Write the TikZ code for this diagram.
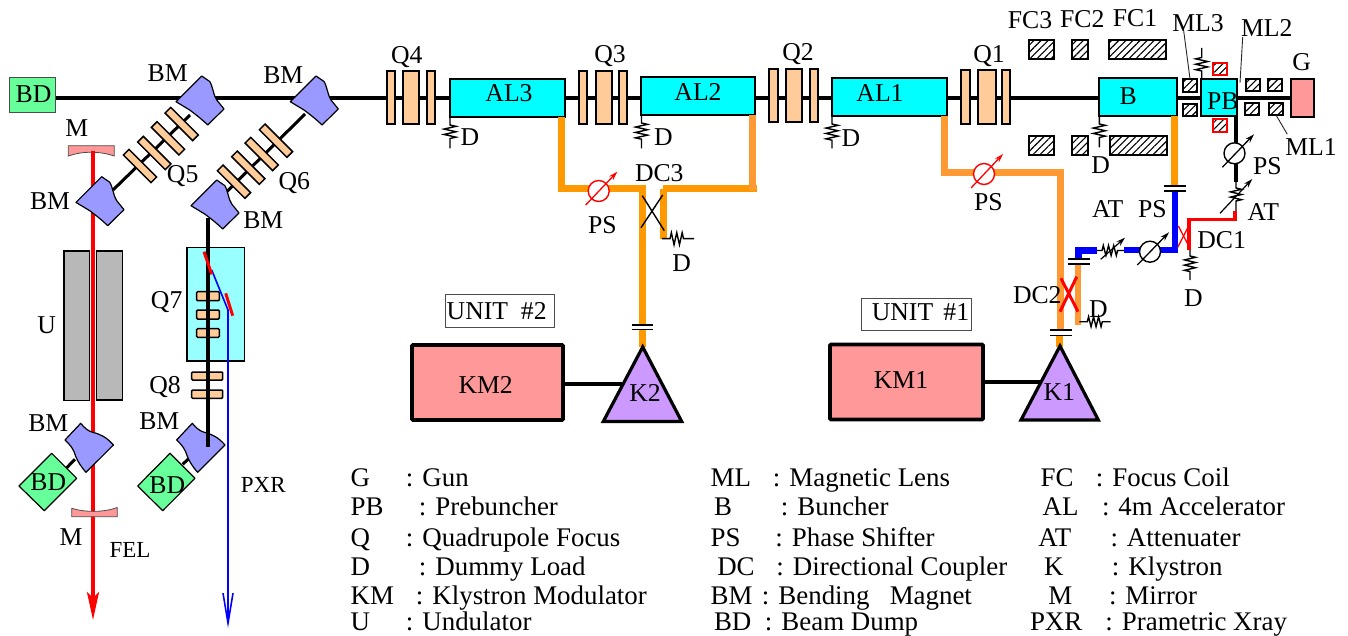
\documentclass[tikz,border=0pt]{standalone}
\usepackage{fontspec}
\setmainfont{Liberation Serif}
\usetikzlibrary{arrows.meta,patterns.meta,decorations.pathmorphing,backgrounds}
\definecolor{rfa}{HTML}{FF9900}
\definecolor{rfb}{HTML}{FF9933}
\definecolor{qcol}{HTML}{FFCC99}
\definecolor{bmcol}{HTML}{9999FF}
\definecolor{bdcol}{HTML}{66FF99}
\definecolor{pinkcol}{HTML}{FF9999}
\definecolor{ltcyan}{HTML}{99FFFF}
\definecolor{fullcyan}{HTML}{00FFFF}
\definecolor{graycol}{HTML}{B8B8B8}
\definecolor{kcol}{HTML}{CC99FF}
\tikzset{
  lab/.style={inner sep=0pt,outer sep=0pt,font=\fontsize{25.7pt}{28pt}\selectfont},
  smalllab/.style={inner sep=0pt,outer sep=0pt,font=\fontsize{23pt}{26pt}\selectfont},
  legtext/.style={inner sep=0pt,outer sep=0pt,anchor=base west,font=\fontsize{26.9pt}{28pt}\selectfont},
  plainbox/.style={rectangle,draw,inner sep=0pt,outer sep=0pt},
  albox/.style={plainbox,fill=fullcyan,line width=2pt},
  qbar/.style={plainbox,fill=qcol,line width=1.7pt},
  sbar/.style={plainbox,fill=qcol,line width=1.5pt,rounded corners=1pt},
  hatchbox/.style={plainbox,line width=1.7pt,pattern={Lines[angle=45,distance=5pt,line width=1.1pt]}},
  redhatch/.style={hatchbox,draw=red},
  gunbox/.style={plainbox,fill=pinkcol,line width=2pt},
  kmbox/.style={plainbox,fill=pinkcol,line width=3.6pt,rounded corners=1pt},
  unitbox/.style={plainbox,line width=.7pt,draw=black!70},
  bdbox/.style={plainbox,fill=bdcol,line width=1pt,draw=black!70},
  undbox/.style={plainbox,fill=graycol,line width=1.5pt},
  cyanbox/.style={plainbox,fill=ltcyan,line width=1.6pt},
  bmshape/.style={draw,fill=bmcol,line width=1.2pt,line join=round},
  bdshape/.style={draw,fill=bdcol,line width=1.2pt,line join=round},
  mirror/.style={draw=black!70,fill=pinkcol,line width=.8pt},
  kshape/.style={draw,fill=kcol,line width=3.2pt,line join=miter},
  beam/.style={line width=4pt},
  thinbeam/.style={line width=3pt},
  rfone/.style={line width=7pt,draw=rfa},
  rftwo/.style={line width=7pt,draw=rfb},
  rfthin/.style={line width=6.5pt,draw=rfb},
  blueguide/.style={line width=7pt,draw=blue},
  redguide/.style={line width=3.5pt,draw=red},
  capline/.style={line width=1.7pt},
  lead/.style={line width=.9pt,draw=black!85},
  zig/.style={line width=1.4pt,decorate,decoration={zigzag,amplitude=6pt,segment length=5.4pt,pre length=8pt,post length=8pt}},
  psring/.style={circle,draw,fill=white,line width=1.4pt,minimum size=21pt,inner sep=0pt,outer sep=0pt},
  psarrow/.style={line width=1.3pt,-{Stealth[length=9pt,width=5.5pt]}},
  atarrow/.style={line width=1.2pt,-{Stealth[length=9pt,width=5.5pt]}},
  crossx/.style={line width=1.4pt},
}
\newcommand{\bx}[6]{%
  \pgfmathsetmacro\bxw{#5-#3}\pgfmathsetmacro\bxh{#6-#4}%
  \pgfmathsetmacro\bxcx{(#3+#5)/2}\pgfmathsetmacro\bxcy{(#4+#6)/2}%
  \node[#2,minimum width=\bxw pt,minimum height=\bxh pt] (#1) at (\bxcx,\bxcy) {};}
\newcommand{\lbl}[4]{\node[lab] (#1) at (#2,#3) {#4};}
\newcommand{\rbar}[3]{\node[plainbox,fill=qcol,line width=1.5pt,rotate=-45,minimum width=39pt,minimum height=8pt] (#1) at (#2,#3) {};}
\newcommand{\bmU}[3]{\path[bmshape,shift={(#2,#3)}] (0,0) -- (8,5.5) .. controls (11,10) and (12,20) .. (15,24) -- (22.3,33) -- (6,49) .. controls (0,43) and (-8,37) .. (-12,34) -- (-25.7,25.7) -- cycle;\coordinate (#1) at (#2,#3);}
\newcommand{\bmL}[3]{\path[bmshape,shift={(#2,#3)}] (0,0) .. controls (4,5) and (8,8) .. (12,9) .. controls (20,11) and (26,14) .. (32.7,21.7) -- (5.3,49) .. controls (0,43) and (-3,38) .. (-5,33) .. controls (-7,26) and (-10,22) .. (-15.7,16.7) -- cycle;\coordinate (#1) at (#2,#3);}
\newcommand{\leg}[6]{\pgfmathsetmacro\legdx{#5-#2}\node[legtext] (#1) at (#2,#3) {\rlap{#4}\hspace*{\legdx pt}: #6};}
\begin{document}
\begin{tikzpicture}[x=1pt,y=-1pt]
\useasboundingbox (0,0) rectangle (1348,636);

% ---------- accelerator line
\bx{BDa}{bdbox}{9}{78}{55}{113}
\bx{Qfa}{qbar}{387}{71}{395}{124}
\bx{Qfb}{qbar}{403}{71}{419}{124}
\bx{Qfc}{qbar}{427}{71}{435}{124}
\bx{ALc}{albox}{450}{79}{565}{117}
\bx{Qta}{qbar}{579}{71}{587}{124}
\bx{Qtb}{qbar}{596}{71}{612}{124}
\bx{Qtc}{qbar}{619}{71}{627}{124}
\bx{ALb}{albox}{641}{77}{755}{115}
\bx{Qsa}{qbar}{769}{69}{778}{122}
\bx{Qsb}{qbar}{786}{69}{802}{122}
\bx{Qsc}{qbar}{810}{69}{818}{122}
\bx{ALa}{albox}{832}{78}{947}{116}
\bx{Qoa}{qbar}{961}{70}{970}{124}
\bx{Qob}{qbar}{978}{70}{996}{124}
\bx{Qoc}{qbar}{1002}{70}{1010}{124}
\bx{Bu}{albox}{1099}{78}{1177}{116}
\bx{PB}{albox}{1201}{79}{1237}{116}
\bx{G}{gunbox}{1291}{79}{1314}{117}
\begin{pgfonlayer}{background}
  \draw[beam] (BDa.east |- 0,97.7) -- (G.west |- 0,97.7);
\end{pgfonlayer}

% focus coils and lenses
\bx{FCta}{hatchbox}{1029}{40}{1054}{59}
\bx{FCtb}{hatchbox}{1072}{40}{1088}{59}
\bx{FCtc}{hatchbox}{1109}{40}{1166}{59}
\bx{FCba}{hatchbox}{1029}{136}{1054}{155}
\bx{FCbb}{hatchbox}{1072}{136}{1088}{155}
\bx{FCbc}{hatchbox}{1110}{136}{1167}{155}
\bx{MLta}{hatchbox}{1183}{79}{1197}{92}
\bx{MLba}{hatchbox}{1183}{104}{1197}{116}
\bx{MLtb}{hatchbox}{1246}{79}{1260}{91}
\bx{MLbb}{hatchbox}{1245}{103}{1259}{115}
\bx{MLtc}{hatchbox}{1268}{79}{1282}{91}
\bx{MLbc}{hatchbox}{1269}{103}{1283}{115}
\bx{PBt}{redhatch}{1213}{63}{1227}{75}
\bx{PBb}{redhatch}{1213}{119}{1227}{132}

% leaders
\coordinate (lmlc) at (1183.3,28);
\coordinate (lmlb) at (1242.7,37);
\coordinate (lmla) at (1287.3,134.3);
\coordinate (lb) at (1240,82.7);
\draw[lead] (lmlc) -- (MLta.north);
\draw[lead] (lmlb) -- (lb);
\draw[lead] (MLbc.south) -- (lmla);

% dummy loads on the line
\coordinate (dca) at (450,117);   \coordinate (dcb) at (450,148.5);
\coordinate (dba) at (641.5,115); \coordinate (dbb) at (641.5,148.5);
\coordinate (daa) at (832,116);   \coordinate (dab) at (832,148.5);
\coordinate (dua) at (1099.3,116);\coordinate (dub) at (1099.3,147.5);
\coordinate (dpa) at (1201.7,79); \coordinate (dpb) at (1201.7,48);
\draw[zig] (dca) -- (dcb);
\draw[zig] (dba) -- (dbb);
\draw[zig] (daa) -- (dab);
\draw[zig] (dua) -- (dub);
\draw[zig] (dpa) -- (dpb);

% ---------- UNIT 2 RF
\coordinate (rcA) at (561,117);   \coordinate (rcB) at (561,189);  \coordinate (rcC) at (645.5,189);
\coordinate (kbTop) at (642.7,347); \coordinate (kbJ) at (642.7,186);
\coordinate (rdA) at (663.3,239.5); \coordinate (rdB) at (663.3,189); \coordinate (rdC) at (757,189);
\coordinate (reA) at (752.7,115); \coordinate (reB) at (752.7,190);
\draw[rfone] (rcA) -- (rcB) -- (rcC);
\draw[rfone] (kbJ) -- (kbTop);
\draw[rfone,line width=6.5pt] (rdA) -- (rdB);
\draw[rfone,line width=7pt] (rdB) -- (rdC);
\draw[rftwo] (reA) -- (reB);
\node[psring,draw=red] (PSc) at (598.7,191) {};
\draw[psarrow,red] (585.7,205) -- (617.3,171.7);
\draw[crossx] (642.3,195.7) -- (664.3,230.7);
\draw[crossx] (662.7,195) -- (641,227.7);
\coordinate (rdz) at (662,238.7); \coordinate (rdy) at (694,238.7);
\draw[zig] (rdz) -- (rdy);
\coordinate (capcl) at (632.3,324.7); \coordinate (capcr) at (652.7,324.7);
\coordinate (capdl) at (632.3,329.5); \coordinate (capdr) at (652.7,329.5);
\path[fill=white] (632,325) rectangle (653,329.5);
\draw[capline] (capcl) -- (capcr);
\draw[capline] (capdl) -- (capdr);

\bx{KMb}{kmbox}{412}{345}{563}{420}
\path[kshape] (642.7,347) -- (603.3,421.5) -- (681.7,421.5) -- cycle;
\coordinate (Kb) at (622,384.3);
\draw[beam] (KMb.east |- Kb) -- (Kb);
\bx{UNb}{unitbox}{445}{294}{554}{327}

% ---------- UNIT 1 RF
\coordinate (raA) at (944,116);  \coordinate (raB) at (944,172.5); \coordinate (raC) at (1064,172.5);
\coordinate (raD) at (1060.7,172.5); \coordinate (raE) at (1060.7,330);
\draw[rftwo] (raA) -- (raB) -- (raC);
\draw[rftwo] (raD) -- (raE);
\coordinate (raF) at (1078,262); \coordinate (raG) at (1078,324.5);
\draw[rfthin] (raF) -- (raG);
\coordinate (kaTop) at (1059.5,347); \coordinate (kaCap) at (1059.5,335.5);
\draw[rfone] (kaCap) -- (kaTop);
\node[psring,draw=red] (PSa) at (984,174) {};
\draw[psarrow,red] (971,188) -- (1003,154);

% capacitors of unit 1
\coordinate (capal) at (1050,329.7);\coordinate (capar) at (1071.7,329.7);
\coordinate (capbl) at (1050,335.5);\coordinate (capbr) at (1071.7,335.5);
\path[fill=white] (1050,330) rectangle (1072,335.5);
\draw[capline] (capal) -- (capar);
\draw[capline] (capbl) -- (capbr);

% DC2 and its load
\coordinate (rfz) at (1079.3,321.7); \coordinate (rfy) at (1110.7,321.7);
\draw[zig,decoration={amplitude=5pt,segment length=5pt}] (rfz) -- (rfy);
\draw[red,line width=3pt] (1060,311.7) -- (1076.7,276.7);
\draw[red,line width=3pt] (1078,311.7) -- (1061,278.3);

\bx{KMa}{kmbox}{830}{344.5}{983}{419.5}
\path[kshape] (1060,346) -- (1021,420) -- (1098.3,420) -- cycle;
\coordinate (Ka) at (1040,381.7);
\draw[beam] (KMa.east |- Ka) -- (Ka);
\bx{UNa}{unitbox}{861}{298}{971.5}{330.5}

% B feed, blue and red guides
\coordinate (buA) at (1174.3,116); \coordinate (buB) at (1174.3,186);
\draw[rfone] (buA) -- (buB);
\coordinate (blA) at (1175,191);  \coordinate (blB) at (1175,250); \coordinate (blC) at (1160,250);
\draw[blueguide,line width=6.8pt] (blA) -- (blB) -- (blC);
\coordinate (glA) at (1078.3,258); \coordinate (glB) at (1078.3,250.5); \coordinate (glC) at (1097,250.5);
\draw[blueguide] (glA) -- (glB) -- (glC);
\coordinate (gmA) at (1124,250); \coordinate (gmB) at (1141,250);
\draw[blueguide,line width=6pt] (gmA) -- (gmB);
\node[psring] (PSb) at (1150,251.7) {};
\draw[psarrow] (1137.3,265) -- (1169,232.3);
\coordinate (atA) at (1097,250.5); \coordinate (atB) at (1124,250.5);
\draw[zig,decoration={amplitude=5pt,segment length=5.2pt,pre length=5pt,post length=5pt}] (atA) -- (atB);
\draw[atarrow] (1100.7,259.3) -- (1125,237.7);

\coordinate (cpal) at (1164,185.7); \coordinate (cpar) at (1186,185.7);
\coordinate (cpbl) at (1164,191);   \coordinate (cpbr) at (1186,191);
\draw[capline] (cpal) -- (cpar);
\draw[capline] (cpbl) -- (cpbr);
\coordinate (cqal) at (1068,259.3); \coordinate (cqar) at (1090,259.3);
\coordinate (cqbl) at (1068,264.3); \coordinate (cqbr) at (1090,264.3);
\path[fill=white] (1068,259.5) rectangle (1090,264);
\draw[capline] (cqal) -- (cqar);
\draw[capline] (cqbl) -- (cqbr);

% prebuncher feed
\node[psring] (PSd) at (1234.5,153.3) {};
\coordinate (atC) at (1236,182); \coordinate (atD) at (1236,211);
\draw[beam] (PB.south -| atC) -- (PSd.north -| atC);
\draw[beam] (PSd.south -| atC) -- (atC);
\draw[psarrow] (1222.3,167.3) -- (1254,134.3);
\draw[zig,decoration={amplitude=5.5pt,segment length=5.2pt,pre length=6pt,post length=8pt}] (atC) -- (atD);
\draw[atarrow] (1220,213.3) -- (1252.3,179);
\coordinate (rgB) at (1235,219.3); \coordinate (rgC) at (1189,219.3); \coordinate (rgD) at (1189,250);
\draw[redguide] (atD) ++(-1,0) -- (rgB) -- (rgC) -- (rgD);
\draw[red,line width=1.3pt] (1178.3,226) -- (1190,248.3);
\draw[red,line width=1.3pt] (1188.3,226.7) -- (1177.7,247.3);
\coordinate (dgA) at (1190,250); \coordinate (dgB) at (1190,280);
\draw[zig,decoration={amplitude=5.5pt,segment length=5.2pt,pre length=6pt,post length=7pt}] (dgA) -- (dgB);

% ---------- FEL side
\bx{Ul}{undbox}{64}{251}{89.3}{400.7}
\bx{Ur}{undbox}{96.7}{251}{122.3}{400}
\path[mirror] (68.3,145.7) -- (114.3,145.7) -- (114.3,156) .. controls (100,151) and (82,151) .. (68.3,156) -- cycle;
\coordinate (mT) at (93,151);
\coordinate (felTip) at (93,620);
\draw[red,line width=3.7pt,-{Stealth[length=28pt,width=12pt,inset=6pt]}] (mT) -- (felTip);

\coordinate (ba) at (190,115); \coordinate (bb) at (113,190);
\coordinate (bc) at (305,114); \coordinate (bd) at (226.7,191.7);
\draw[thinbeam] (ba) -- (bb);
\draw[thinbeam] (bc) -- (bd);
\rbar{QFa}{181.7}{124}
\rbar{QFb}{168}{138.3}
\rbar{QFc}{154.3}{153}
\rbar{QFd}{140}{166}
\rbar{QSa}{276}{140.7}
\rbar{QSb}{261.7}{154}
\rbar{QSc}{248.3}{167.7}
\rbar{QSd}{234}{181.7}
\bmU{bmA}{201.7}{76}
\bmU{bmB}{316}{76}
\bmU{bmC}{101.7}{176.7}
\bmU{bmD}{216.7}{180}

% PXR side
\bx{PXbox}{cyanbox}{186.7}{247.7}{244.3}{360.7}
\bx{Qsva}{sbar}{196.7}{291.7}{219.3}{300.7}
\bx{Qsvb}{sbar}{196.7}{310}{219.3}{319}
\bx{Qsvc}{sbar}{196.7}{328.7}{219.3}{337.3}
\bx{Qea}{sbar}{191.7}{372}{222.7}{380}
\bx{Qeb}{sbar}{191.7}{390}{222.7}{398.3}

\coordinate (bfa) at (66.7,467.7); \coordinate (bfb) at (75,459.3);
\coordinate (bga) at (182.7,464.3); \coordinate (bgb) at (188.3,459);
\draw[thinbeam] (bfa) -- (bfb);
\draw[thinbeam] (bga) -- (bgb);
\bmL{bmE}{80.7}{423.3}
\bmL{bmF}{192.3}{423.3}
\path[bdshape] (51.7,453.3) -- (19,486) -- (44.3,510.7) -- (76.7,478.3) -- cycle;
\path[bdshape] (170,453.3) -- (137.7,486) -- (162.7,510.7) -- (195,478.3) -- cycle;
\path[mirror] (71.7,508.3) .. controls (85,512.5) and (104,512.5) .. (117.3,507.5) -- (117.3,516.7) -- (71.7,516.7) -- cycle;

\coordinate (bvA) at (207.7,218); \coordinate (bvB) at (207.7,446.7);
\draw[beam] (bvA) -- (bvB);
\coordinate (blS) at (211.7,270); \coordinate (blT) at (228,310); \coordinate (blE) at (228,628);
\draw[blue,line width=1.6pt,line join=round,-{Straight Barb[length=30pt,width=10pt]}] (blS) -- (blT) -- (blE);
\draw[red,line width=3pt] (204,251.7) -- (211.7,274.3);
\draw[red,line width=3pt] (225.7,293.3) -- (232.7,315.7);

% ---------- labels
\lbl{tBDa}{33.5}{94.5}{BD}
\lbl{tBMa}{167.7}{73.3}{BM}
\lbl{tBMb}{283.3}{75}{BM}
\lbl{tMa}{76.7}{128.3}{M}
\lbl{tBMc}{50}{201}{BM}
\lbl{tQf}{182.7}{175.7}{Q5}
\lbl{tQs}{294.3}{183.3}{Q6}
\lbl{tBMd}{263.3}{220}{BM}
\lbl{tU}{46.7}{325}{U}
\lbl{tQv}{166.7}{301.7}{Q7}
\lbl{tQe}{165}{386.7}{Q8}
\lbl{tBMe}{48.3}{423.3}{BM}
\lbl{tBMf}{159.3}{421}{BM}
\lbl{tBDb}{48.3}{481.7}{BD}
\lbl{tBDc}{167.3}{485}{BD}
\lbl{tMb}{71}{536.7}{M}
\node[smalllab] (tFEL) at (130,550) {FEL};
\node[smalllab] (tPXR) at (263.3,485) {PXR};

\lbl{tQ4}{406.7}{56.7}{Q4}
\lbl{tQ3}{610}{56}{Q3}
\lbl{tQ2}{798}{54}{Q2}
\lbl{tQ1}{989}{56}{Q1}
\lbl{tAL3}{509}{93.3}{AL3}
\lbl{tAL2}{698}{92}{AL2}
\lbl{tAL1}{880}{93}{AL1}
\lbl{tB}{1128.3}{96}{B}
\lbl{tPB}{1222.7}{101}{PB}
\lbl{tG}{1301.7}{61.7}{G}
\lbl{tFC3}{1030}{20}{FC3}
\lbl{tFC2}{1082.3}{19}{FC2}
\lbl{tFC1}{1135}{18.3}{FC1}
\lbl{tML3}{1198}{22.7}{ML3}
\lbl{tML2}{1266.7}{28.3}{ML2}
\lbl{tML1}{1311}{146.7}{ML1}
\lbl{tDa}{470}{137.3}{D}
\lbl{tDb}{663.3}{137.3}{D}
\lbl{tDc}{851}{138}{D}
\lbl{tDd}{1100.7}{165}{D}
\lbl{tDC3}{659.3}{172.7}{DC3}
\lbl{tPSc}{602.3}{225}{PS}
\lbl{tDe}{681.7}{263}{D}
\lbl{tPSa}{988.3}{201.7}{PS}
\lbl{tAT}{1107.7}{209}{AT}
\lbl{tPSb}{1152.3}{209}{PS}
\lbl{tPSd}{1267.3}{166}{PS}
\lbl{tATb}{1263.3}{211.7}{AT}
\lbl{tDC1}{1221.7}{240}{DC1}
\lbl{tDf}{1193.3}{298.3}{D}
\lbl{tDC2}{1037.3}{295}{DC2}
\lbl{tDg}{1098.3}{309.3}{D}
\lbl{tUN2}{496.7}{311}{UNIT\ \ \#2}
\lbl{tUN1}{920.5}{311.7}{UNIT\hspace{.4em}\#1}
\lbl{tKM2}{485.7}{385}{KM2}
\lbl{tKM1}{901}{380}{KM1}
\lbl{tK2}{645}{393.3}{K2}
\lbl{tK1}{1059.3}{392.3}{K1}

% ---------- legend
\leg{la}{350.7}{486}{G}{406}{Gun}
\leg{lb}{350.7}{515.7}{PB}{419}{Prebuncher}
\leg{lc}{350.7}{546}{Q}{406}{Quadrupole Focus}
\leg{ld}{350.7}{575}{D}{419}{Dummy Load}
\leg{le}{350.7}{604}{KM}{416}{Klystron Modulator}
\leg{lf}{350.7}{630}{U}{406}{Undulator}
\leg{ma}{710.7}{486}{ML}{773}{Magnetic Lens}
\leg{mb}{714}{515.7}{B}{781}{Buncher}
\leg{mc}{710.7}{546}{PS}{775.5}{Phase Shifter}
\leg{md}{717.3}{575}{DC}{776.5}{Directional Coupler}
\leg{me}{710.7}{604}{BM}{762}{Bending\ \ \ Magnet}
\leg{mf}{714}{630}{BD}{765}{Beam Dump}
\leg{na}{1040.7}{486}{FC}{1096}{Focus Coil}
\leg{nb}{1042.7}{515.7}{AL}{1102}{4m Accelerator}
\leg{nc}{1038.3}{546}{AT}{1110.5}{Attenuater}
\leg{nd}{1044}{575}{K}{1112}{Klystron}
\leg{ne}{1048.3}{604}{M}{1109}{Mirror}
\leg{nf}{1030}{630}{PXR}{1105.5}{Prametric Xray}
\end{tikzpicture}
\end{document}
